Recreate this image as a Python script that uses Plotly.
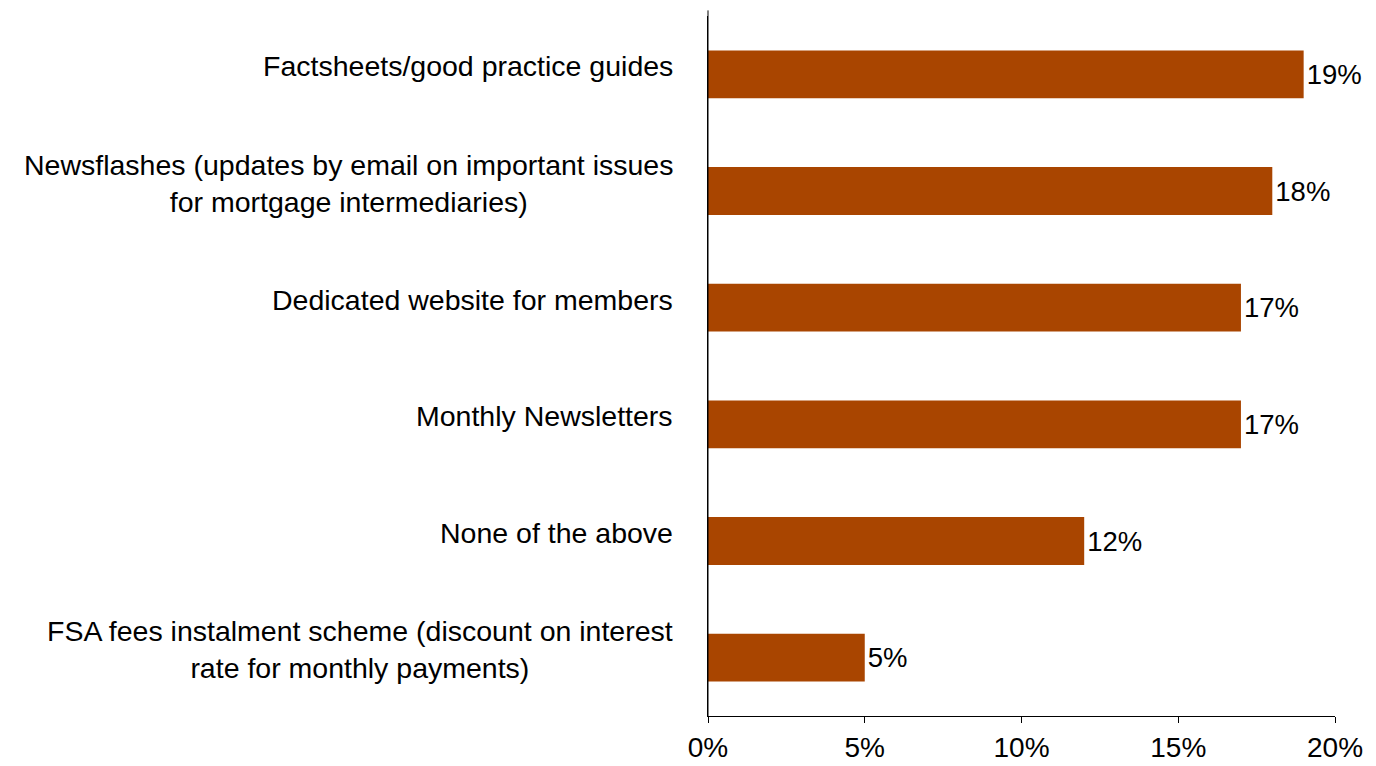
import plotly.graph_objects as go

# Survey responses: share of respondents choosing each service
categories = [
    "Factsheets/good practice guides",
    "Newsflashes (updates by email on important issues<br>for mortgage intermediaries)",
    "Dedicated website for members",
    "Monthly Newsletters",
    "None of the above",
    "FSA fees instalment scheme (discount on interest<br>rate for monthly payments)",
]
values = [19, 18, 17, 17, 12, 5]
value_labels = ["19%", "18%", "17%", "17%", "12%", "5%"]
x_ticks = [0, 5, 10, 15, 20]
x_tick_labels = ["0%", "5%", "10%", "15%", "20%"]

FONT = "Liberation Sans, Arial, sans-serif"
BAR_COLOR = "#A94500"

fig = go.Figure(
    go.Bar(
        x=values,
        y=list(range(len(categories))),
        orientation="h",
        marker=dict(color=BAR_COLOR, line=dict(width=0)),
        width=0.41,
        text=value_labels,
        textposition="outside",
        textfont=dict(family=FONT, size=27.5, color="#000000"),
        cliponaxis=False,
        hoverinfo="skip",
    )
)

# Category labels: right-aligned block, each multi-line label centred on itself
for i, label in enumerate(categories):
    fig.add_annotation(
        x=0,
        xref="paper",
        y=i,
        yref="y",
        text=label,
        showarrow=False,
        xanchor="right",
        yanchor="middle",
        align="center",
        xshift=-33,
        yshift=8,
        font=dict(family=FONT, size=28.5, color="#000000"),
    )

# Vertical axis line extends slightly above the plotting area
fig.add_shape(
    type="line",
    xref="paper",
    yref="paper",
    x0=0,
    x1=0,
    y0=0,
    y1=1.008,
    line=dict(color="#000000", width=1),
)

fig.update_layout(
    width=1376,
    height=766,
    margin=dict(l=708, r=41, t=16, b=50, autoexpand=False),
    paper_bgcolor="white",
    plot_bgcolor="white",
    showlegend=False,
    bargap=0.59,
)

fig.update_xaxes(
    range=[0, 20],
    tickvals=x_ticks,
    ticktext=x_tick_labels,
    ticks="outside",
    ticklen=6,
    tickcolor="#000000",
    tickwidth=1,
    showline=True,
    linecolor="#000000",
    linewidth=1,
    showgrid=False,
    zeroline=False,
    automargin=False,
    tickfont=dict(family=FONT, size=28, color="#000000"),
)

fig.update_yaxes(
    range=[len(categories) - 0.5, -0.5],
    showticklabels=False,
    ticks="",
    showline=True,
    linecolor="#000000",
    linewidth=1,
    showgrid=False,
    zeroline=False,
    automargin=False,
)

fig.write_html("out.html")
